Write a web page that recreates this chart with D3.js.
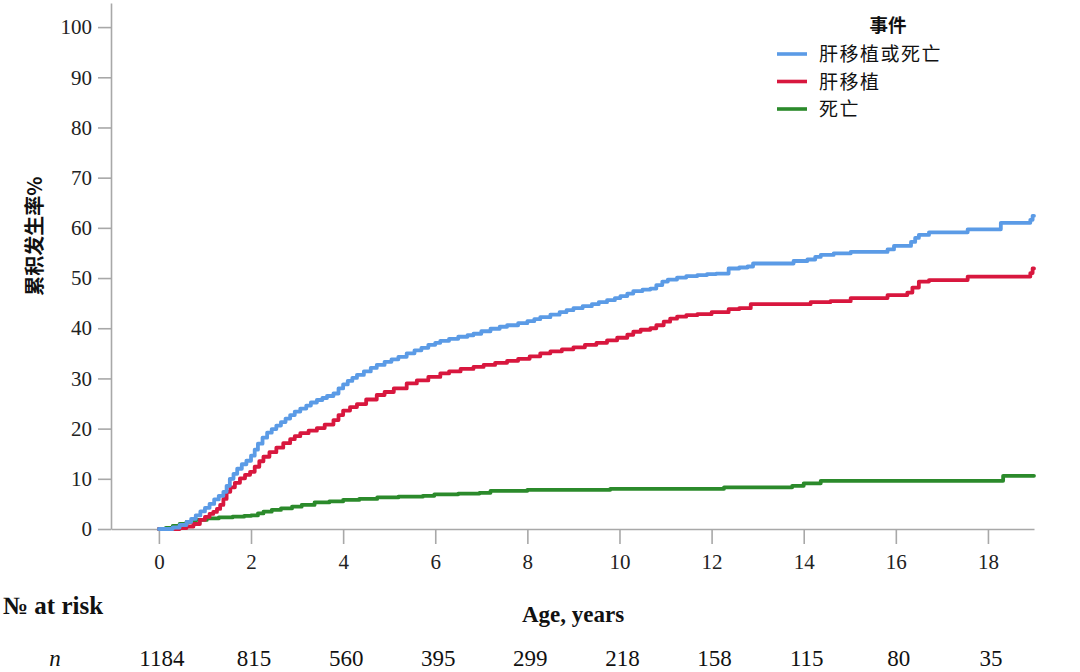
<!DOCTYPE html>
<html>
<head>
<meta charset="utf-8">
<script src="https://cdn.jsdelivr.net/npm/d3@7/dist/d3.min.js"></script>
<style>
  html, body { margin: 0; padding: 0; background: #fff; }
  svg { display: block; }
</style>
</head>
<body>
<svg id="chart" width="1080" height="672"></svg>
<script>
// ---- Data ----
const seriesNames = ["肝移植或死亡", "肝移植", "死亡"];
const seriesColors = ["#5b9be6", "#d8173e", "#2b8a2b"];

const blueData = [
  [0,0],[0.3,0.3],[0.45,0.8],[0.6,1.4],[0.7,2.0],[0.8,2.7],[0.9,3.5],[1.0,4.2],[1.1,5.0],[1.2,5.9],
  [1.3,6.6],[1.4,7.4],[1.47,8.6],[1.54,10.0],[1.62,11.0],[1.7,12.0],[1.8,12.9],[1.9,13.6],[2.0,14.6],
  [2.08,15.8],[2.15,17.0],[2.25,18.2],[2.35,19.2],[2.45,19.9],[2.55,20.6],[2.65,21.3],[2.75,22.0],
  [2.85,22.7],[2.95,23.4],[3.07,24.0],[3.2,24.6],[3.3,25.2],[3.43,25.7],[3.55,26.1],[3.65,26.5],
  [3.79,27.0],[3.9,28.0],[4.0,28.8],[4.1,29.5],[4.2,30.1],[4.3,30.7],[4.45,31.4],[4.6,32.1],[4.73,32.7],
  [4.9,33.3],[5.05,33.8],[5.2,34.3],[5.38,35.0],[5.55,35.6],[5.7,36.1],[5.85,36.7],[6.0,37.1],[6.11,37.5],
  [6.3,37.9],[6.5,38.3],[6.7,38.6],[6.83,38.9],[7.0,39.4],[7.2,39.9],[7.4,40.3],[7.56,40.6],[7.8,41.0],
  [8.0,41.4],[8.15,41.8],[8.28,42.2],[8.5,42.7],[8.7,43.2],[8.85,43.6],[9.0,44.0],[9.2,44.4],[9.4,44.8],
  [9.55,45.2],[9.73,45.6],[9.9,46.0],[10.02,46.4],[10.17,46.9],[10.3,47.4],[10.5,47.7],[10.67,47.9],
  [10.8,48.6],[10.93,49.3],[11.05,49.7],[11.25,50.1],[11.45,50.4],[11.69,50.6],[11.9,50.8],[12.1,50.9],
  [12.37,51.9],[12.6,52.1],[12.78,52.3],[12.9,52.9],[13.78,53.4],[14.08,53.7],[14.25,54.2],[14.37,54.6],
  [14.65,54.9],[15.02,55.2],[15.82,55.7],[15.96,56.4],[16.33,57.2],[16.42,58.0],[16.5,58.6],[16.72,59.1],
  [17.56,59.7],[18.28,61.0],[18.92,61.6],[18.97,62.4],[19.0,62.4]
];

const redData = [
  [0,0],[0.45,0.2],[0.6,0.5],[0.75,1.0],[0.89,1.8],[1.0,2.4],[1.1,3.0],[1.18,3.4],[1.26,4.0],[1.33,4.8],
  [1.4,6.0],[1.47,7.4],[1.55,8.3],[1.65,9.2],[1.76,10.1],[1.87,10.8],[1.98,11.4],[2.08,12.4],[2.18,13.5],
  [2.27,14.4],[2.4,15.3],[2.55,16.2],[2.7,17.1],[2.85,17.9],[2.95,18.5],[3.07,19.1],[3.25,19.6],[3.43,20.1],
  [3.6,20.8],[3.79,21.7],[3.9,22.7],[4.0,23.6],[4.15,24.3],[4.3,24.9],[4.5,25.8],[4.73,26.7],[4.9,27.3],
  [5.1,28.0],[5.38,29.0],[5.6,29.6],[5.85,30.3],[6.11,31.0],[6.3,31.4],[6.55,31.9],[6.83,32.3],[7.05,32.7],
  [7.3,33.1],[7.56,33.5],[7.8,33.9],[8.05,34.4],[8.28,35.0],[8.5,35.4],[8.75,35.8],[9.0,36.2],[9.25,36.7],
  [9.5,37.1],[9.73,37.6],[9.95,38.1],[10.17,38.7],[10.3,39.3],[10.46,39.7],[10.67,40.0],[10.8,40.6],
  [10.96,41.3],[11.1,41.9],[11.25,42.3],[11.45,42.6],[11.69,42.8],[12.0,43.2],[12.37,43.8],[12.6,44.0],
  [12.85,44.8],[14.15,45.2],[14.58,45.4],[15.02,46.0],[15.82,46.6],[16.25,47.1],[16.36,48.1],[16.5,49.3],
  [16.72,49.6],[17.56,50.3],[18.92,51.0],[18.97,51.9],[19.0,51.9]
];

const greenData = [
  [0,0],[0.15,0.2],[0.3,0.6],[0.45,1.0],[0.6,1.4],[0.79,1.8],[1.04,2.1],[1.3,2.3],[1.6,2.45],[1.85,2.6],
  [2.0,2.7],[2.15,3.1],[2.27,3.45],[2.45,3.8],[2.65,4.1],[2.89,4.45],[3.1,4.8],[3.38,5.3],[3.7,5.5],
  [4.0,5.8],[4.35,6.0],[4.74,6.3],[5.2,6.45],[5.73,6.6],[5.98,6.9],[6.5,7.05],[6.96,7.2],[7.2,7.6],
  [8.0,7.8],[9.8,8.0],[12.27,8.3],[13.75,8.6],[14.0,9.1],[14.37,9.6],[18.33,10.6],[19.0,10.6]
];

const xTicks = [0, 2, 4, 6, 8, 10, 12, 14, 16, 18];
const yTicks = [0, 10, 20, 30, 40, 50, 60, 70, 80, 90, 100];
const riskTimes = [0, 2, 4, 6, 8, 10, 12, 14, 16, 18];
const riskN = [1184, 815, 560, 395, 299, 218, 158, 115, 80, 35];

const xTitle = "Age, years";
const yTitle = "累积发生率%";
const legendTitle = "事件";
const riskTitle = "№ at risk";

// ---- Drawing ----
const svg = d3.select("#chart");
const serif = "'Liberation Serif', 'Times New Roman', serif";
const cjk = "'Noto Sans CJK SC', 'Noto Sans', sans-serif";

const x = d3.scaleLinear().domain([-1.04, 19]).range([111, 1034]);
const y = d3.scaleLinear().domain([0, 104.8]).range([529, 3]);

const axisColor = "#a8a8a8";

// Y axis
const yAxis = svg.append("g")
  .attr("transform", `translate(${x(-1.04)},0)`)
  .call(d3.axisLeft(y).tickValues(yTicks).tickSize(13).tickPadding(6).tickSizeOuter(0));
yAxis.attr("font-family", serif).attr("font-size", 21);
yAxis.select(".domain").attr("stroke", axisColor).attr("stroke-width", 1.6);
yAxis.selectAll(".tick line").attr("stroke", axisColor).attr("stroke-width", 1.6);
yAxis.selectAll(".tick text").style("font-family", serif).style("font-size", "21px").attr("fill", "#222");

// X axis
const xAxis = svg.append("g")
  .attr("transform", `translate(0,${y(0)})`)
  .call(d3.axisBottom(x).tickValues(xTicks).tickSize(15).tickPadding(10).tickSizeOuter(0));
xAxis.attr("font-family", serif).attr("font-size", 21);
xAxis.select(".domain").attr("stroke", axisColor).attr("stroke-width", 1.6);
xAxis.selectAll(".tick line").attr("stroke", axisColor).attr("stroke-width", 1.6);
xAxis.selectAll(".tick text").style("font-family", serif).style("font-size", "21px").attr("fill", "#222");

// Lines
const line = d3.line().x(d => x(d[0])).y(d => y(d[1])).curve(d3.curveStepAfter);
const allSeries = [blueData, redData, greenData];
[2, 1, 0].forEach(i => {
  svg.append("path")
    .datum(allSeries[i])
    .attr("fill", "none")
    .attr("stroke", seriesColors[i])
    .attr("stroke-width", 3.8)
    .attr("stroke-linejoin", "round")
    .attr("stroke-linecap", "round")
    .attr("d", line);
});

// Y title
svg.append("text")
  .attr("transform", `translate(42,236) rotate(-90)`)
  .attr("text-anchor", "middle")
  .attr("font-family", cjk)
  .attr("font-weight", "bold")
  .attr("font-size", 20)
  .attr("fill", "#111")
  .text(yTitle);

// X title
svg.append("text")
  .attr("x", 573).attr("y", 622)
  .attr("text-anchor", "middle")
  .attr("font-family", serif)
  .attr("font-weight", "bold")
  .attr("font-size", 23)
  .attr("fill", "#111")
  .text(xTitle);

// Risk table
svg.append("text")
  .attr("x", 3).attr("y", 614)
  .attr("font-family", serif)
  .attr("font-weight", "bold")
  .attr("font-size", 25)
  .attr("fill", "#111")
  .text(riskTitle);

svg.append("text")
  .attr("x", 55).attr("y", 666)
  .attr("text-anchor", "middle")
  .attr("font-family", serif)
  .attr("font-style", "italic")
  .attr("font-size", 23)
  .attr("fill", "#111")
  .text("n");

svg.append("g").selectAll("text")
  .data(riskTimes)
  .join("text")
  .attr("x", (d) => x(d) + 3)
  .attr("y", 666)
  .attr("text-anchor", "middle")
  .attr("font-family", serif)
  .attr("font-size", 23)
  .attr("fill", "#111")
  .text((d, i) => riskN[i]);

// Legend
svg.append("text")
  .attr("x", 888).attr("y", 32)
  .attr("text-anchor", "middle")
  .attr("font-family", cjk)
  .attr("font-weight", "bold")
  .attr("font-size", 18.5)
  .attr("fill", "#111")
  .text(legendTitle);

const legendY = [54, 81.5, 109];
const leg = svg.append("g").selectAll("g")
  .data(seriesNames)
  .join("g")
  .attr("transform", (d, i) => `translate(0,${legendY[i]})`);
leg.append("line")
  .attr("x1", 777).attr("x2", 807)
  .attr("y1", 0).attr("y2", 0)
  .attr("stroke", (d, i) => seriesColors[i])
  .attr("stroke-width", 3.6);
leg.append("text")
  .attr("x", 819).attr("y", 7)
  .attr("font-family", cjk)
  .attr("font-size", 19)
  .attr("textLength", null)
  .attr("letter-spacing", 1.5)
  .attr("fill", "#111")
  .text(d => d);
</script>
</body>
</html>
